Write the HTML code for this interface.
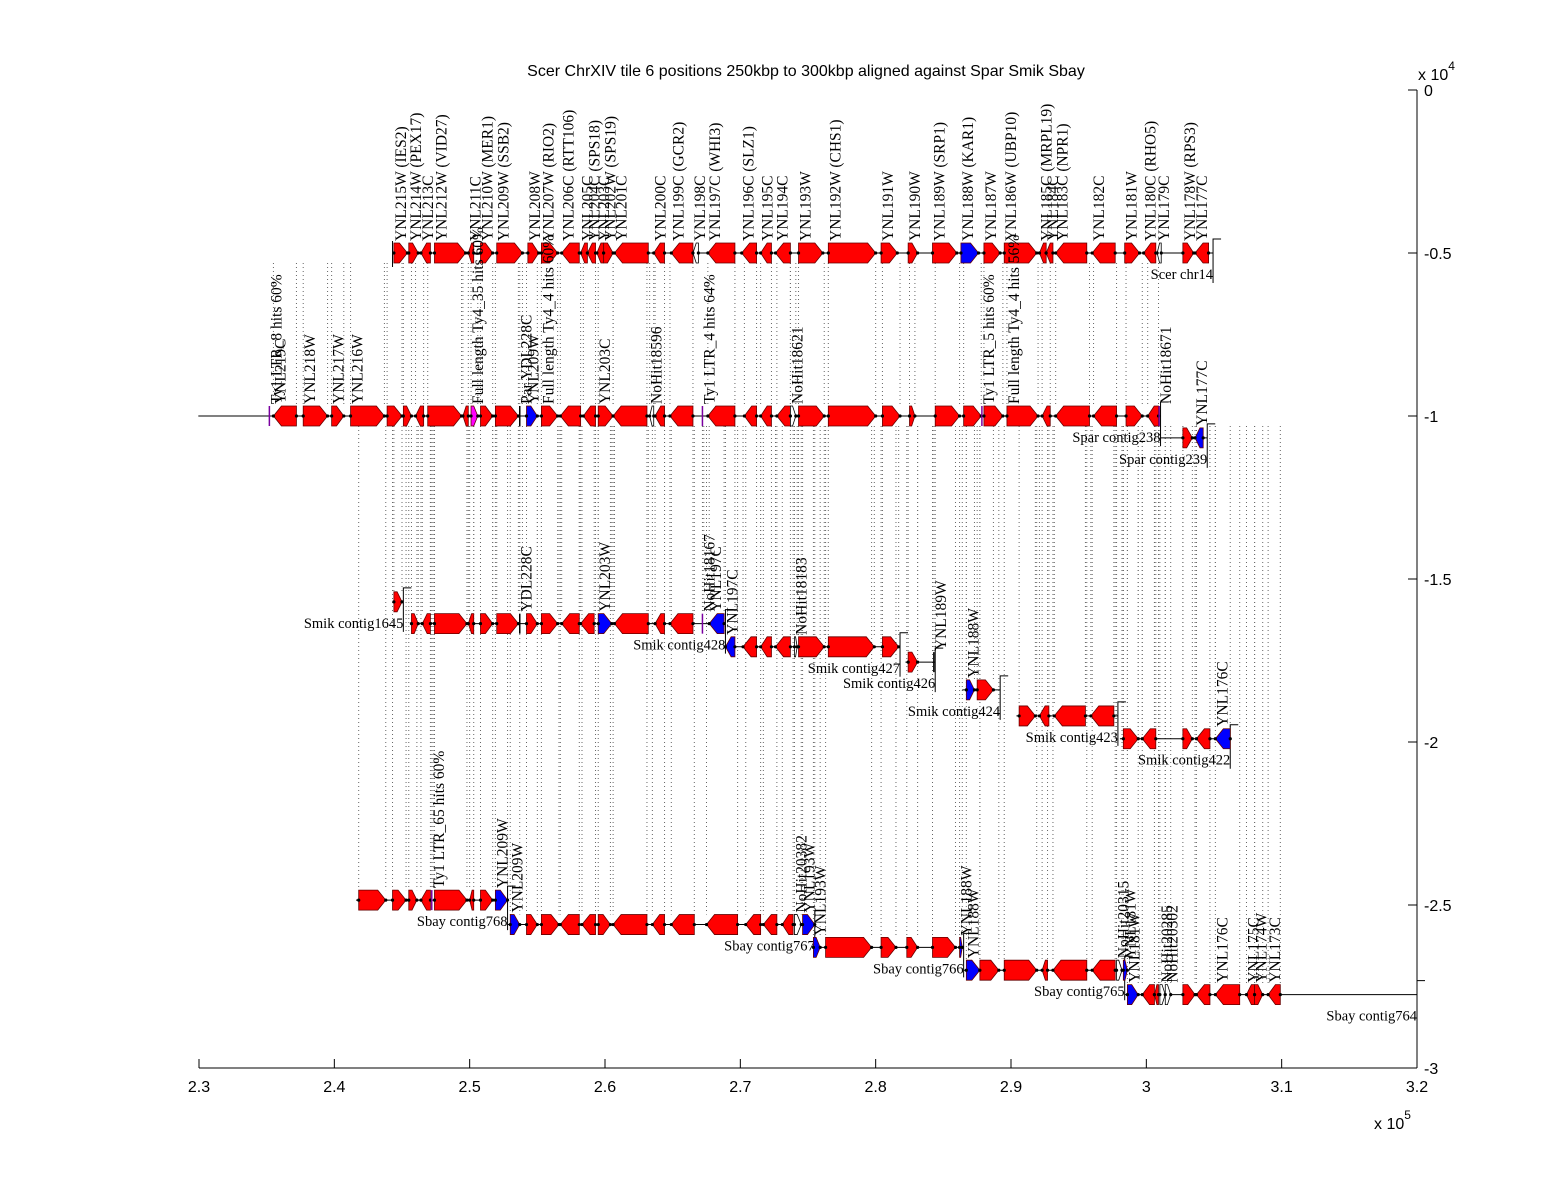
<!DOCTYPE html>
<html><head><meta charset="utf-8"><style>
html,body{margin:0;padding:0;background:#fff;}
svg{display:block;}
.ax{font-family:"Liberation Sans",sans-serif;font-size:16px;fill:#000;}
.tt{font-family:"Liberation Sans",sans-serif;font-size:16px;fill:#000;}
.gl{font-family:"Liberation Serif",serif;font-size:15.5px;fill:#000;}
.cl{font-family:"Liberation Serif",serif;font-size:14.5px;fill:#000;}
</style></head><body>
<svg id="chart" width="1568" height="1200" viewBox="0 0 1568 1200" xmlns="http://www.w3.org/2000/svg">
<rect width="1568" height="1200" fill="#fff"/>
<text class="tt" x="806" y="76" text-anchor="middle">Scer ChrXIV tile 6 positions 250kbp to 300kbp aligned against Spar Smik Sbay</text>
<g id="dots"></g><g id="tracks"></g><g id="axes"></g>
</svg>
<script>
// x in kbp, y in units of 1e4
const xTicks = [230,240,250,260,270,280,290,300,310,320];
const xTickLabels = ["2.3","2.4","2.5","2.6","2.7","2.8","2.9","3","3.1","3.2"];
const yTicks = [0,-0.5,-1,-1.5,-2,-2.5,-3];
const yTickLabels = ["0","-0.5","-1","-1.5","-2","-2.5","-3"];

const trackNames = ["Scer chr14","Spar contig238","Spar contig239","Smik contig1645","Smik contig428","Smik contig427","Smik contig426","Smik contig424","Smik contig423","Smik contig422","Sbay contig768","Sbay contig767","Sbay contig766","Sbay contig765","Sbay contig764"];
const trackY = [-0.5,-1.0,-1.067,-1.57,-1.637,-1.708,-1.755,-1.84,-1.92,-1.99,-2.485,-2.56,-2.63,-2.70,-2.775];
const trackStart = [244.3,229.95,301.05,244.3,245.7,268.8,282.2,286.4,290.4,298.05,241.6,252.8,275.3,286.5,298.4];
const trackEnd = [304.93,301.05,304.5,245.1,268.9,281.8,284.4,289.2,297.9,306.2,252.8,275.5,286.5,298.4,320];

// genes: [trackIndex, start, end, strand, type, label]
const scerGenes = [
[0,244.4,245.4,"W","r","YNL215W (IES2)"],[0,245.5,246.2,"W","r","YNL214W (PEX17)"],[0,246.4,247.1,"C","r","YNL213C"],
[0,247.4,249.7,"W","r","YNL212W (VID27)"],[0,249.9,250.3,"C","r","YNL211C"],[0,250.8,251.7,"W","r","YNL210W (MER1)"],
[0,252.0,253.9,"W","r","YNL209W (SSB2)"],[0,254.3,255.1,"W","r","YNL208W"],[0,255.3,256.5,"W","r","YNL207W (RIO2)"],
[0,256.8,258.1,"C","r","YNL206C (RTT106)"],[0,258.2,258.7,"C","r","YNL205C"],[0,258.7,259.3,"C","r","YNL204C (SPS18)"],
[0,259.4,259.9,"C","r","YNL203C"],[0,259.9,260.6,"W","r","YNL202W (SPS19)"],[0,260.7,263.2,"C","r","YNL201C"],
[0,263.6,264.4,"C","r","YNL200C"],[0,264.9,266.5,"C","r","YNL199C (GCR2)"],[0,266.5,266.9,"C","w","YNL198C"],
[0,267.6,269.6,"C","r","YNL197C (WHI3)"],[0,270.1,271.2,"C","r","YNL196C (SLZ1)"],[0,271.5,272.3,"C","r","YNL195C"],
[0,272.6,273.7,"C","r","YNL194C"],[0,274.3,276.1,"W","r","YNL193W"],[0,276.5,280.0,"W","r","YNL192W (CHS1)"],
[0,280.4,281.6,"W","r","YNL191W"],[0,282.4,283.1,"W","r","YNL190W"],[0,284.2,286.0,"W","r","YNL189W (SRP1)"],
[0,286.3,287.6,"W","b","YNL188W (KAR1)"],[0,288.0,289.2,"W","r","YNL187W"],[0,289.5,291.9,"W","r","YNL186W (UBP10)"],
[0,292.1,292.6,"C","r","YNL185C (MRPL19)"],[0,292.6,293.1,"C","r","YNL184C"],[0,293.3,295.6,"C","r","YNL183C (NPR1)"],
[0,296.0,297.7,"C","r","YNL182C"],[0,298.4,299.5,"W","r","YNL181W"],[0,299.8,300.7,"C","r","YNL180C (RHO5)"],
[0,300.8,301.1,"C","w","YNL179C"],[0,302.7,303.5,"W","r","YNL178W (RPS3)"],[0,303.6,304.6,"C","r","YNL177C"]
];
const sparGenes = [
[1,235.2,235.4,"W","p","Ty1 LTR_8 hits 60%"],[1,235.5,237.2,"C","r","YNL219C"],[1,237.7,239.5,"W","r","YNL218W"],
[1,239.8,240.7,"W","r","YNL217W"],[1,241.2,243.7,"W","r","YNL216W"],[1,243.9,245.0,"W","r",""],[1,245.1,245.7,"W","r",""],
[1,246.0,246.6,"C","r",""],[1,246.9,249.4,"W","r",""],[1,249.5,249.9,"C","r",""],[1,250.1,250.6,"W","m","Full length Ty4_35 hits 60%"],
[1,250.8,251.7,"W","r",""],[1,251.9,253.6,"W","r",""],[1,253.7,253.9,"W","k","Par YDL228C"],[1,254.2,255.0,"W","b","YNL209W"],
[1,255.3,256.5,"W","r","Full length Ty4_4 hits 60%"],[1,256.7,258.2,"C","r",""],[1,258.4,259.3,"C","r",""],
[1,259.5,260.6,"W","r","YNL203C"],[1,260.6,263.1,"C","r",""],[1,263.3,263.6,"C","w","NoHit18596"],[1,263.7,264.4,"C","r",""],
[1,264.8,266.5,"C","r",""],[1,267.2,267.3,"W","p","Ty1 LTR_4 hits 64%"],[1,267.6,269.6,"C","r",""],[1,270.3,271.2,"C","r",""],
[1,271.5,272.3,"C","r",""],[1,272.7,273.7,"C","r",""],[1,273.7,274.1,"W","w","NoHit18621"],[1,274.3,276.2,"W","r",""],
[1,276.5,280.0,"W","r",""],[1,280.5,281.8,"W","r",""],[1,282.5,282.9,"W","r",""],[1,284.4,286.2,"W","r",""],
[1,286.5,287.8,"W","r",""],[1,287.85,287.95,"W","p","Ty1 LTR_5 hits 60%"],[1,288.0,289.4,"W","r",""],
[1,289.7,292.0,"W","r","Full length Ty4_4 hits 56%"],[1,292.3,292.9,"C","r",""],[1,293.3,295.8,"C","r",""],
[1,296.1,297.8,"C","r",""],[1,298.5,299.7,"W","r",""],[1,300.1,300.9,"C","r",""],[1,300.95,301.0,"W","p","NoHit18671"],
[2,302.7,303.4,"W","r",""],[2,303.6,304.2,"C","b","YNL177C"]
];
const smikGenes = [
[3,244.4,245.0,"W","r",""],
[4,245.7,246.2,"W","r",""],[4,246.5,247.1,"C","r",""],[4,247.4,249.8,"W","r",""],[4,249.9,250.3,"C","r",""],
[4,250.8,251.7,"W","r",""],[4,252.0,253.6,"W","r",""],[4,253.7,253.9,"W","k","YDL228C"],[4,254.2,255.0,"W","r",""],
[4,255.3,256.5,"W","r",""],[4,256.8,258.1,"C","r",""],[4,258.2,259.2,"C","r",""],[4,259.5,260.5,"W","b","YNL203W"],
[4,260.7,263.2,"C","r",""],[4,263.7,264.4,"C","r",""],[4,264.8,266.5,"C","r",""],[4,267.2,267.3,"W","p","NoHit18167"],
[4,267.7,268.8,"C","b","YNL197C"],
[5,268.9,269.6,"C","b","YNL197C"],[5,270.2,271.2,"C","r",""],[5,271.5,272.3,"C","r",""],[5,272.6,273.7,"C","r",""],
[5,274.0,274.2,"W","w","NoHit18183"],[5,274.3,276.2,"W","r",""],[5,276.5,279.9,"W","r",""],[5,280.5,281.7,"W","r",""],
[6,282.4,283.1,"W","r",""],[6,284.3,284.4,"W","k","YNL189W"],
[7,286.7,287.3,"W","b","YNL188W"],[7,287.5,288.7,"W","r",""],
[8,290.6,291.8,"W","r",""],[8,292.1,292.8,"C","r",""],[8,293.2,295.5,"C","r",""],[8,295.9,297.6,"C","r",""],
[9,298.3,299.4,"W","r",""],[9,299.7,300.7,"C","r",""],[9,302.7,303.4,"W","r",""],[9,303.7,304.7,"C","r",""],[9,305.1,306.2,"C","b","YNL176C"]
];
const sbayGenes = [
[10,241.8,243.8,"W","r",""],[10,244.3,245.3,"W","r",""],[10,245.5,246.1,"W","r",""],[10,246.4,247.1,"C","r",""],
[10,247.2,247.3,"W","p","Ty1 LTR_65 hits 60%"],[10,247.4,249.8,"W","r",""],[10,250.0,250.3,"C","r",""],
[10,250.8,251.7,"W","r",""],[10,251.9,252.8,"W","b","YNL209W"],
[11,253.0,253.7,"W","b","YNL209W"],[11,254.2,255.0,"W","r",""],[11,255.3,256.6,"W","r",""],[11,256.7,258.1,"C","r",""],
[11,258.3,259.3,"C","r",""],[11,259.5,260.4,"W","r",""],[11,260.6,263.1,"C","r",""],[11,263.5,264.4,"C","r",""],
[11,264.9,266.6,"C","r",""],[11,267.5,269.8,"C","r",""],[11,270.4,271.5,"C","r",""],[11,271.7,272.7,"C","r",""],
[11,273.1,273.9,"C","r",""],[11,274.0,274.5,"W","w","NoHit20382"],[11,274.6,275.5,"W","b","YNL193W"],
[12,275.4,275.9,"W","b","YNL193W"],[12,276.3,279.7,"W","r",""],[12,280.4,281.5,"W","r",""],[12,282.3,283.1,"W","r",""],
[12,284.2,285.9,"W","r",""],[12,286.2,286.4,"W","b","YNL188W"],
[13,286.7,287.7,"W","b","YNL188W"],[13,287.7,289.1,"W","r",""],[13,289.5,291.9,"W","r",""],[13,292.3,292.7,"C","r",""],
[13,293.1,295.6,"C","r",""],[13,296.0,297.7,"C","r",""],[13,297.8,298.2,"W","w","NoHit20315"],[13,298.3,298.6,"W","b","YNL181W"],
[14,298.6,299.4,"W","b","YNL181W"],[14,299.7,300.6,"C","r",""],[14,300.6,300.9,"C","r",""],[14,301.0,301.4,"W","w","NoHit20285"],
[14,301.4,301.8,"W","w","NoHit20302"],[14,302.7,303.6,"W","r",""],[14,303.7,304.7,"C","r",""],[14,305.1,306.9,"C","r","YNL176C"],
[14,307.4,308.0,"C","r","YNL175C"],[14,308.0,308.6,"W","r","YNL174W"],[14,309.0,309.9,"C","r","YNL173C"]
];

const NS = "http://www.w3.org/2000/svg";
const X0 = 199, X1 = 1417, Y0 = 90, Y1 = 1068;
function xs(v){ return X0 + (v - 230) / 90 * (X1 - X0); }
function ys(v){ return Y0 + (-v) / 3 * (Y1 - Y0); }
function mk(tag, attrs, parent){ const e = document.createElementNS(NS, tag); for (const k in attrs) e.setAttribute(k, attrs[k]); parent.appendChild(e); return e; }
const dotsG = document.getElementById('dots'), trG = document.getElementById('tracks'), axG = document.getElementById('axes');
const H = 10;
const colors = {r:"#ff0000", b:"#0000ff", m:"#ff00ff", w:"#ffffff", p:"#7a00a0", k:"#000000"};

function connectors(genes, topY){
  genes.forEach(g => {
    const yy = ys(trackY[g[0]]) - H;
    [g[1], g[2]].forEach(v => {
      const l = mk('line', {x1: xs(v), x2: xs(v), y1: topY, y2: yy, stroke: "#666", "stroke-width": 1, "stroke-dasharray": "1,3"}, dotsG);
      
      
    });
  });
}
connectors(sparGenes.filter(g => g[4] !== 'p' && g[0] === 1), ys(-0.5) + H);
connectors(smikGenes, ys(-1.0) + H);
connectors(sbayGenes, ys(-1.0) + H);

trackNames.forEach((n, i) => {
  const y = ys(trackY[i]), a = xs(trackStart[i]), b = xs(trackEnd[i]);
  const ln = mk('line', {x1: a, x2: b, y1: y, y2: y, stroke: "#000", "stroke-width": 1}, trG);
  
  
  const br = mk('path', {d: `M${b+8},${y-14} L${b},${y-14} L${b},${y+30}`, fill: "none", stroke: "#000", "stroke-width": 1}, trG);
  
  
  const t = mk('text', {x: b, y: y + 26, "text-anchor": "end", class: "cl"}, trG);
  t.textContent = n;
  
  
});
const sb = mk('line', {x1: xs(244.3), x2: xs(244.3), y1: ys(-0.5)-12, y2: ys(-0.5)+14, stroke:"#000"}, trG);



function drawGenes(genes){
  genes.forEach(g => {
    const y = ys(trackY[g[0]]), a = xs(g[1]), b = xs(g[2]), len = b - a;
    let el;
    if (g[4] === 'p' || g[4] === 'k') {
      el = mk('line', {x1: a, x2: a, y1: y - H, y2: y + H, stroke: colors[g[4]], "stroke-width": 1.5}, trG);
    } else {
      const h = Math.min(8, len * 0.6);
      let pts;
      if (g[3] === 'W') pts = `${a},${y-H} ${b-h},${y-H} ${b},${y} ${b-h},${y+H} ${a},${y+H}`;
      else pts = `${b},${y-H} ${a+h},${y-H} ${a},${y} ${a+h},${y+H} ${b},${y+H}`;
      el = mk('polygon', {points: pts, fill: colors[g[4]], stroke: g[4]==='w' ? "#000" : "#600", "stroke-width": 0.8}, trG);
      [a, b].forEach(v => {
        const d = mk('circle', {cx: v, cy: y, r: 1.6, fill: "#000"}, trG);
        
        
      });
    }
    
    
    if (g[5]) {
      const tx = a + 12, ty = y - H - 2;
      const t = mk('text', {x: tx, y: ty, class: "gl", transform: `rotate(-90 ${tx} ${ty})`}, trG);
      t.textContent = g[5];
      
      
    }
  });
}
drawGenes(scerGenes); drawGenes(sparGenes); drawGenes(smikGenes); drawGenes(sbayGenes);

const yA = mk('line', {x1: X1, x2: X1, y1: Y0, y2: Y1, stroke: "#000"}, axG);


const xA = mk('line', {x1: X0, x2: X1, y1: Y1, y2: Y1, stroke: "#000"}, axG);


yTicks.forEach((v, i) => {
  const y = ys(v);
  const tk = mk('line', {x1: X1 - 9, x2: X1, y1: y, y2: y, stroke: "#000"}, axG);
  
  
  const t = mk('text', {x: X1 + 7, y: y + 6, class: "ax"}, axG);
  t.textContent = yTickLabels[i];
  
  
});
xTicks.forEach((v, i) => {
  const x = xs(v);
  const tk = mk('line', {x1: x, x2: x, y1: Y1, y2: Y1 - 9, stroke: "#000"}, axG);
  
  
  const t = mk('text', {x: x, y: Y1 + 24, "text-anchor": "middle", class: "ax"}, axG);
  t.textContent = xTickLabels[i];
  
  
});
const ye = mk('text', {x: 1418, y: 80, class: "ax"}, axG);
ye.innerHTML = 'x 10<tspan dy="-10" font-size="12">4</tspan>';


const xe = mk('text', {x: 1374, y: 1129, class: "ax"}, axG);
xe.innerHTML = 'x 10<tspan dy="-10" font-size="12">5</tspan>';


</script>
</body></html>
